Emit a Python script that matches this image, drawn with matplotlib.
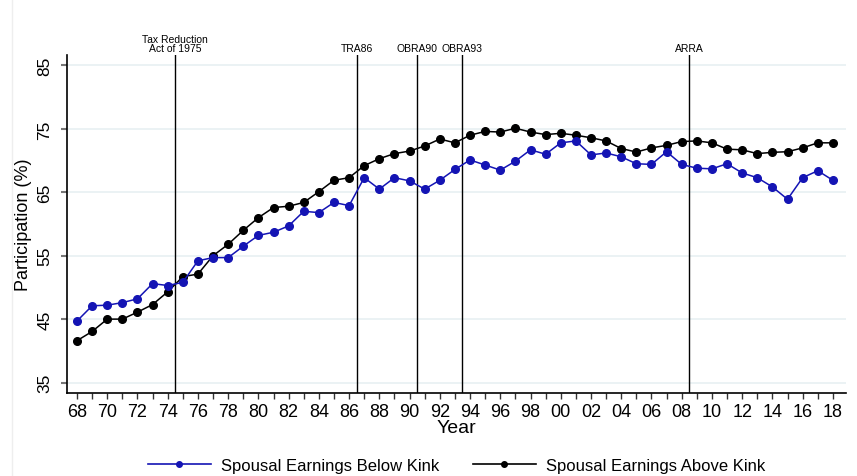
import matplotlib
matplotlib.use("Agg")
import matplotlib.pyplot as plt
from matplotlib.lines import Line2D
from matplotlib.ticker import MultipleLocator

years = list(range(1968, 2019))
below_kink = [44.7, 47.1, 47.2, 47.6, 48.2, 50.6, 50.3, 50.8, 54.2, 54.7,
              54.7, 56.5, 58.2, 58.7, 59.7, 62.0, 61.8, 63.4, 62.9, 67.3,
              65.5, 67.3, 66.8, 65.5, 66.9, 68.6, 70.1, 69.3, 68.5, 69.9,
              71.7, 71.0, 72.8, 73.1, 70.9, 71.2, 70.6, 69.5, 69.4, 71.4,
              69.4, 68.8, 68.7, 69.5, 68.05, 67.3, 65.85, 63.9, 67.3, 68.4,
              66.9]
above_kink = [41.6, 43.05, 45.0, 45.0, 46.1, 47.3, 49.3, 51.7, 52.1, 55.0,
              56.8, 59.0, 61.0, 62.6, 62.8, 63.4, 65.1, 66.9, 67.3, 69.2,
              70.3, 71.1, 71.5, 72.3, 73.4, 72.8, 74.0, 74.6, 74.5, 75.1,
              74.5, 74.1, 74.3, 74.0, 73.6, 73.1, 71.9, 71.35, 72.0, 72.4,
              73.0, 73.1, 72.8, 71.8, 71.7, 71.1, 71.3, 71.4, 72.0, 72.8,
              72.8]
events = [1974.5, 1986.5, 1990.5, 1993.5, 2008.5]
event_labels = ["Tax Reduction\nAct of 1975", "TRA86", "OBRA90", "OBRA93", "ARRA"]
yticks = [35, 45, 55, 65, 75, 85]
series_labels = ["Spousal Earnings Below Kink", "Spousal Earnings Above Kink"]

plt.rcParams['font.family'] = ['Liberation Sans', 'DejaVu Sans']

fig = plt.figure(figsize=(8.57, 4.77), dpi=100)
ax = fig.add_axes([0.0782, 0.174, 0.9088, 0.7086])

for y in yticks:
    ax.axhline(y, color='#e8f0f2', lw=1.2, zorder=0)

blue = '#1414b4'
ax.plot(years, above_kink, color='black', marker='o', markersize=5.5, lw=1.1,
        zorder=3, label=series_labels[1])
ax.plot(years, below_kink, color=blue, marker='o', markersize=5.5, lw=1.1,
        zorder=4, label=series_labels[0])

for x, lab in zip(events, event_labels):
    ax.axvline(x, color='black', lw=1.0, zorder=2)
    ax.text(x, 86.9, lab, ha='center', va='bottom', fontsize=7.5,
            linespacing=0.95, clip_on=False)

ax.set_xlim(1967.34, 2018.86)
ax.set_ylim(33.35, 86.65)
ax.set_yticks(yticks)
ax.set_yticklabels([str(v) for v in yticks], rotation=90, va='center', fontsize=12.5)
xt = list(range(1968, 2019, 2))
ax.set_xticks(xt)
ax.set_xticklabels([f"{v % 100:02d}" for v in xt], fontsize=13)
ax.xaxis.set_minor_locator(MultipleLocator(1))
ax.tick_params(axis='x', which='both', length=4.5, width=1, color='#333333', pad=3)
ax.tick_params(axis='y', length=4.5, width=1.5, color='#777777', pad=6)

for s in ['top', 'right']:
    ax.spines[s].set_visible(False)
for s in ['left', 'bottom']:
    ax.spines[s].set_linewidth(1.2)

ax.set_xlabel("Year", fontsize=14, labelpad=-1)
ax.set_ylabel("Participation (%)", fontsize=13, labelpad=4)

handles = [Line2D([0], [0], color=blue, marker='o', markersize=4, lw=1.2),
           Line2D([0], [0], color='black', marker='o', markersize=4, lw=1.2)]
ax_center = 0.0782 + 0.9088 / 2
fig.legend(handles, series_labels, loc='center', bbox_to_anchor=(ax_center, 0.023),
           ncol=2, frameon=False, fontsize=12,
           handlelength=3.8, columnspacing=2.0, handletextpad=0.6)

fig.add_artist(Line2D([11.5 / 857, 11.5 / 857], [0, 1], color='#eeeeee', lw=1,
                      transform=fig.transFigure))

fig.savefig("out.png", dpi=100)
